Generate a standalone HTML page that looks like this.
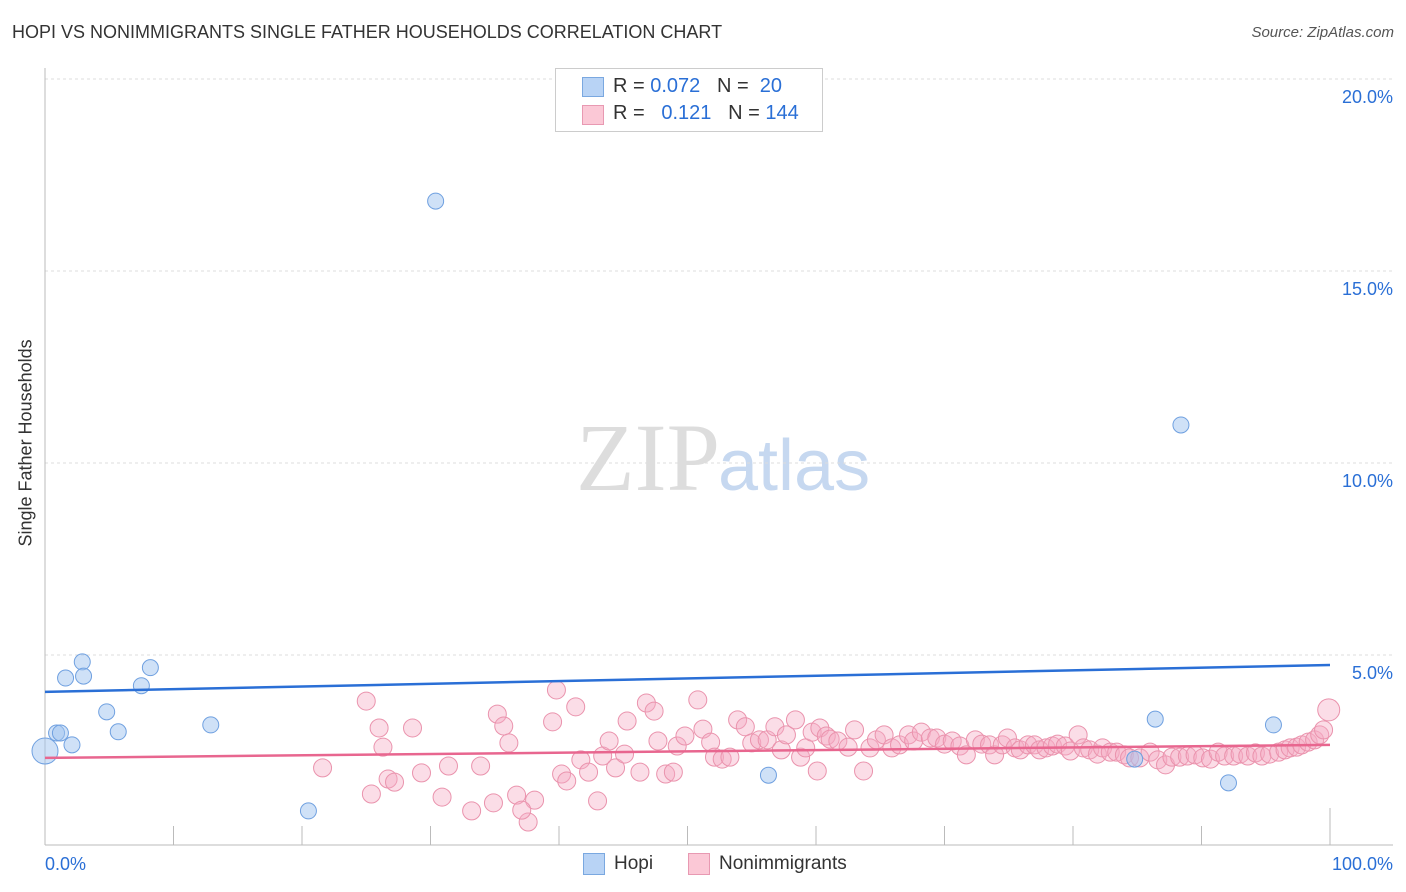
<!DOCTYPE html>
<html><head><meta charset="utf-8"><style>
body{margin:0;background:#fff;font-family:"Liberation Sans",sans-serif}
#wrap{position:relative;width:1406px;height:892px;overflow:hidden}
.t{position:absolute;white-space:nowrap}
</style></head><body>
<div id="wrap">
<div class="t" style="left:12px;top:22px;font-size:18px;color:#333">HOPI VS NONIMMIGRANTS SINGLE FATHER HOUSEHOLDS CORRELATION CHART</div>
<div class="t" style="right:12px;top:24px;font-size:15px;color:#555;font-style:italic">Source: ZipAtlas.com</div>
<div class="t" style="left:-64px;top:446px;transform:rotate(-90deg);transform-origin:center;width:180px;text-align:center;font-size:18px;color:#333">Single Father Households</div>
<svg id="svg" width="1406" height="892" style="position:absolute;left:0;top:0">
<text x="720" y="490" font-family="Liberation Serif" font-size="96" fill="#ddd" text-anchor="end">ZIP</text>
<text x="718" y="490" font-family="Liberation Sans" font-size="72" fill="#c6d8f0">atlas</text>
</svg>
<div style="position:absolute;left:555px;top:68px;width:266px;height:62px;border:1px solid #ccc;background:#fff">
<div style="position:absolute;left:26px;top:8px;width:20px;height:18px;background:#b8d3f5;border:1px solid #7aa8e0"></div>
<div class="t" style="left:57px;top:6px;font-size:20px;color:#333">R = <span style="color:#2a6fd6">0.072</span> &nbsp;&nbsp;N = &nbsp;<span style="color:#2a6fd6">20</span></div>
<div style="position:absolute;left:26px;top:36px;width:20px;height:18px;background:#fbc8d6;border:1px solid #e899b2"></div>
<div class="t" style="left:57px;top:33px;font-size:20px;color:#333">R = &nbsp;&nbsp;<span style="color:#2a6fd6">0.121</span> &nbsp;&nbsp;N = <span style="color:#2a6fd6">144</span></div>
</div>
<div style="position:absolute;left:583px;top:853px;width:20px;height:20px;background:#b8d3f5;border:1px solid #7aa8e0"></div>
<div class="t" style="left:614px;top:853px;font-size:19px;color:#333">Hopi</div>
<div style="position:absolute;left:688px;top:853px;width:20px;height:20px;background:#fbc8d6;border:1px solid #e899b2"></div>
<div class="t" style="left:719px;top:853px;font-size:19px;color:#333">Nonimmigrants</div>
</div>
<script>
const yTicks=[5,10,15,20];
const yTickLabels=["5.0%","10.0%","15.0%","20.0%"];
const xTickLabels=["0.0%","100.0%"];
const hopiX=[0,0.9,1.2,2.1,1.6,2.9,3.0,4.8,5.7,7.5,8.2,12.9,20.5,30.4,56.3,84.8,86.4,88.4,92.1,95.6];
const hopiY=[2.5,2.97,2.97,2.66,4.40,4.82,4.45,3.52,3.0,4.2,4.67,3.18,0.94,16.82,1.87,2.29,3.33,10.99,1.67,3.18];
const hopiR=[14,9,9,9,9,9,9,9,9,9,9,9,9,9,9,9,9,9,9,9];
const nonPx=[[366,701],[379,728],[383,747],[413,728],[323,768],[371,794],[388,779],[394,782],[421,773],[449,766],[442,797],[471,811],[480,766],[494,803],[497,714],[504,726],[509,743],[516,795],[535,800],[528,822],[522,810],[552,722],[556,690],[561,774],[567,781],[576,707],[581,760],[589,772],[597,801],[603,756],[609,741],[615,768],[624,754],[627,721],[640,772],[647,703],[654,711],[658,741],[666,774],[673,772],[677,746],[685,736],[698,700],[703,729],[711,742],[714,757],[722,759],[730,757],[737,720],[745,727],[752,743],[760,740],[767,740],[775,727],[781,750],[786,735],[795,720],[800,757],[806,748],[812,732],[817,771],[820,728],[826,736],[830,739],[838,741],[848,747],[855,730],[864,771],[870,748],[876,740],[884,735],[892,748],[900,745],[908,735],[914,741],[922,732],[930,738],[937,738],[945,744],[952,741],[960,746],[966,755],[975,740],[982,744],[990,745],[994,755],[1002,745],[1008,738],[1015,748],[1020,750],[1028,745],[1035,745],[1040,750],[1046,748],[1052,746],[1058,744],[1065,746],[1071,751],[1078,735],[1083,748],[1090,750],[1097,754],[1102,748],[1110,752],[1117,752],[1124,755],[1130,758],[1140,758],[1150,752],[1158,760],[1165,765],[1172,757],[1180,757],[1188,756],[1195,755],[1203,758],[1210,759],[1218,752],[1225,756],[1233,756],[1240,754],[1248,756],[1255,753],[1262,756],[1270,754],[1278,752],[1285,750],[1290,748],[1296,747],[1302,745],[1308,742],[1314,740],[1320,735],[1324,730],[1329,710]];
// converted to data values
const nonX=nonPx.map(p=>+((p[0]-45)/12.85).toFixed(1));
const nonY=nonPx.map(p=>+((847-p[1])/38.4).toFixed(2));
const hopiTrend=[4.04,4.74];
const nonTrend=[2.32,2.66];

const X0=45,X1=1330,Y0=847,YS=38.4;
const sx=v=>X0+(X1-X0)*v/100, sy=v=>Y0-v*YS;
const svg=document.getElementById('svg');const NS='http://www.w3.org/2000/svg';
function mk(tag,attrs){const e=document.createElementNS(NS,tag);for(const k in attrs)e.setAttribute(k,attrs[k]);svg.appendChild(e);return e;}
yTicks.forEach((v,i)=>{
 const g=mk('line',{x1:45,x2:1393,y1:sy(v),y2:sy(v),stroke:'#ddd','stroke-dasharray':'3,3'});
 
 
 const t=mk('text',{x:1393,y:sy(v)+24,'text-anchor':'end','font-size':18,fill:'#2a6fd6','font-family':'Liberation Sans'});
 t.textContent=yTickLabels[i];
 
 
});
let ax=mk('line',{x1:45,x2:1393,y1:845,y2:845,stroke:'#bbb'});


let ay=mk('line',{x1:45,x2:45,y1:68,y2:845,stroke:'#bbb'});


for(let i=1;i<=10;i++){const tk=mk('line',{x1:sx(i*10),x2:sx(i*10),y1:i==10?808:826,y2:845,stroke:'#bbb'});
 
 }
const xl0=mk('text',{x:45,y:870,'font-size':18,fill:'#2a6fd6','font-family':'Liberation Sans'});xl0.textContent=xTickLabels[0];


const xl1=mk('text',{x:1393,y:870,'font-size':18,fill:'#2a6fd6','text-anchor':'end','font-family':'Liberation Sans'});xl1.textContent=xTickLabels[1];


nonX.forEach((x,i)=>{const c=mk('circle',{cx:sx(x),cy:sy(nonY[i]),r:i==nonX.length-1?11:9,fill:'rgba(246,170,196,0.4)',stroke:'#ea93ad','stroke-width':1});
 
 });
hopiX.forEach((x,i)=>{const c=mk('circle',{cx:sx(x),cy:sy(hopiY[i]),r:hopiR[i]-1,fill:'rgba(160,196,240,0.5)',stroke:'#6fa0e0','stroke-width':1});
 
 });
const l1=mk('line',{x1:sx(0),x2:sx(100),y1:sy(hopiTrend[0]),y2:sy(hopiTrend[1]),stroke:'#2a6fd6','stroke-width':2.5});


const l2=mk('line',{x1:sx(0),x2:sx(100),y1:sy(nonTrend[0]),y2:sy(nonTrend[1]),stroke:'#e8668f','stroke-width':2.5});


</script>
</body></html>
